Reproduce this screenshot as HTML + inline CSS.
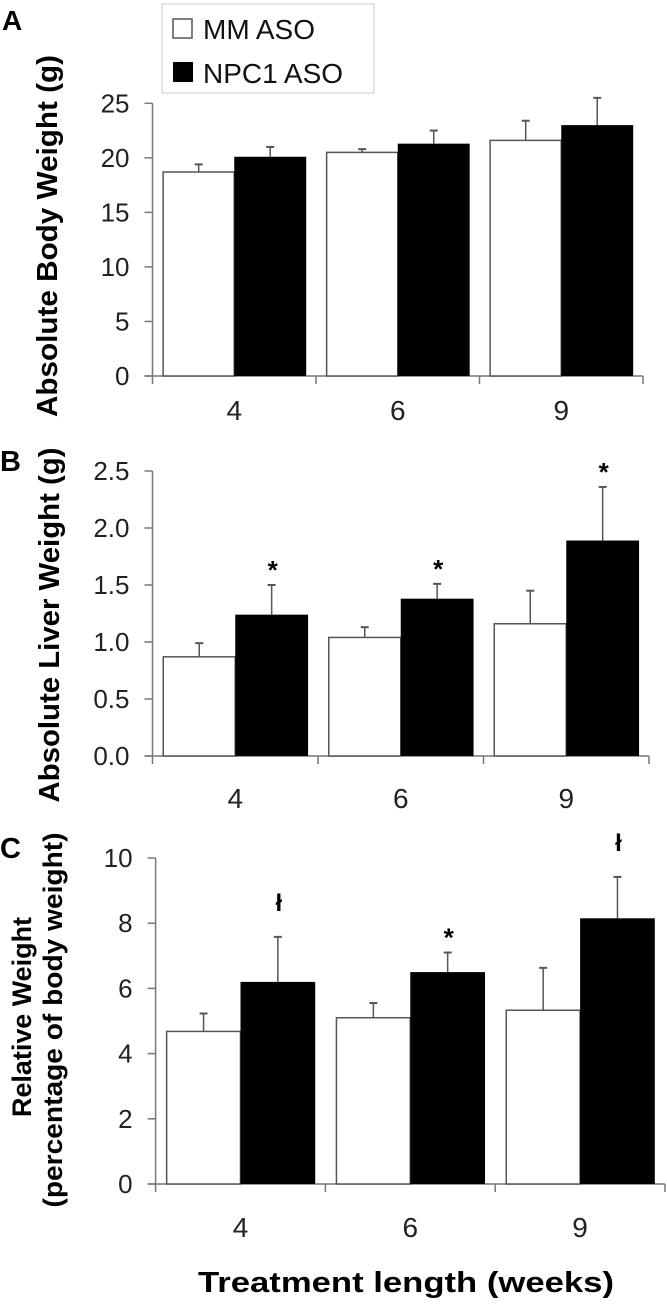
<!DOCTYPE html>
<html><head><meta charset="utf-8"><style>
html,body{margin:0;padding:0;background:#fff;}
svg{display:block;font-family:"Liberation Sans",Arial,sans-serif;}
</style></head><body>
<svg id="fig" width="667" height="1305" viewBox="0 0 667 1305">
<g>
<rect x="162" y="4" width="212" height="89" fill="#fff" stroke="#ccc" stroke-width="1"/>
<rect x="173" y="19" width="19" height="19" fill="#fff" stroke="#555" stroke-width="1.5"/>
<text x="203" y="39" font-size="28" fill="#111">MM ASO</text>
<rect x="173" y="62" width="20" height="20" fill="#000"/>
<text x="203" y="83" font-size="28" fill="#111">NPC1 ASO</text>
</g>
<text x="2" y="30" font-size="28" font-weight="bold">A</text>
<text x="0" y="471" font-size="29" font-weight="bold">B</text>
<text x="0" y="858" font-size="29" font-weight="bold">C</text>
<text x="406" y="1292" font-size="29" font-weight="bold" text-anchor="middle" textLength="416" lengthAdjust="spacingAndGlyphs">Treatment length (weeks)</text>
</svg>
<script>
const categories = ["4", "6", "9"];
const bodyMM = [18.7, 20.5, 21.6];
const bodyMMErr = [0.7, 0.3, 1.8];
const bodyNPC = [20.1, 21.3, 23.0];
const bodyNPCErr = [0.9, 1.2, 2.5];
const bodyTicks = [0, 5, 10, 15, 20, 25];
const bodyTickLabels = ["0", "5", "10", "15", "20", "25"];
const bodyMarks = ["", "", ""];

const liverMM = [0.87, 1.04, 1.16];
const liverMMErr = [0.12, 0.09, 0.29];
const liverNPC = [1.24, 1.38, 1.89];
const liverNPCErr = [0.26, 0.13, 0.47];
const liverTicks = [0, 0.5, 1.0, 1.5, 2.0, 2.5];
const liverTickLabels = ["0.0", "0.5", "1.0", "1.5", "2.0", "2.5"];
const liverMarks = ["*", "*", "*"];

const relMM = [4.68, 5.1, 5.33];
const relMMErr = [0.55, 0.45, 1.3];
const relNPC = [6.2, 6.5, 8.15];
const relNPCErr = [1.38, 0.6, 1.27];
const relTicks = [0, 2, 4, 6, 8, 10];
const relTickLabels = ["0", "2", "4", "6", "8", "10"];
const relMarks = ["ł", "*", "ł"];

const NS = "http://www.w3.org/2000/svg";
const svg = document.getElementById("fig");
function mk(tag, attrs, parent) {
  const e = document.createElementNS(NS, tag);
  for (const k in attrs) e.setAttribute(k, attrs[k]);
  (parent || svg).appendChild(e);
  return e;
}
function panel(p) {
  const g = mk("g", {});
  
  
  const ymax = p.ticks[p.ticks.length - 1];
  const y = v => p.y0 - (v / ymax) * (p.y0 - p.ytop);
  const gw = (p.x1 - p.x0) / categories.length;
  const gx = i => p.x0 + i * gw;
  const axc = "#777";
  const ya = mk("line", {x1: p.x0, y1: p.ytop, x2: p.x0, y2: p.y0, stroke: axc, "stroke-width": 1.5}, g);
  
  
  const xa = mk("line", {x1: p.x0 - 8, y1: p.y0, x2: p.x1, y2: p.y0, stroke: axc, "stroke-width": 1.5}, g);
  
  
  p.ticks.forEach((t, i) => {
    mk("line", {x1: p.x0 - 8, y1: y(t), x2: p.x0, y2: y(t), stroke: axc, "stroke-width": 1.5}, g);
    const tl = mk("text", {x: p.x0 - 23, y: y(t) + 9, "font-size": 26, "text-anchor": "end", fill: "#222"}, g);
    tl.textContent = p.tickLabels[i];
    
    
  });
  for (let i = 0; i <= categories.length; i++) {
    mk("line", {x1: gx(i), y1: p.y0, x2: gx(i), y2: p.y0 + 8, stroke: axc, "stroke-width": 1.5}, g);
  }
  categories.forEach((c, i) => {
    const wl = gx(i) + 0.065 * gw, wr = gx(i) + 0.5 * gw, br = gx(i) + 0.94 * gw;
    const eW = y(p.mm[i] + p.mmErr[i]);
    const cxw = (wl + wr) / 2;
    mk("line", {x1: cxw, y1: y(p.mm[i]), x2: cxw, y2: eW, stroke: "#555", "stroke-width": 1.5}, g);
    mk("line", {x1: cxw - 4, y1: eW, x2: cxw + 4, y2: eW, stroke: "#555", "stroke-width": 2}, g);
    const w = mk("rect", {x: wl, y: y(p.mm[i]), width: wr - wl, height: p.y0 - y(p.mm[i]), fill: "#fff", stroke: "#555", "stroke-width": 1.5}, g);
    
    
    const b = mk("rect", {x: wr, y: y(p.npc[i]), width: br - wr, height: p.y0 - y(p.npc[i]), fill: "#000"}, g);
    
    
    const cxb = (wr + br) / 2;
    const eB = y(p.npc[i] + p.npcErr[i]);
    mk("line", {x1: cxb, y1: y(p.npc[i]), x2: cxb, y2: eB, stroke: "#555", "stroke-width": 1.5}, g);
    mk("line", {x1: cxb - 4, y1: eB, x2: cxb + 4, y2: eB, stroke: "#555", "stroke-width": 2}, g);
    if (p.marks[i]) {
      const m = mk("text", {x: cxb + 1, y: eB - (p.marks[i] === "*" ? 6 : 26), "font-size": p.marks[i] === "*" ? 26 : 24, "font-weight": "bold", "text-anchor": "middle"}, g);
      m.textContent = p.marks[i];
      
      
    }
    const cl = mk("text", {x: gx(i) + gw / 2, y: p.labelY + 10, "font-size": 28, "text-anchor": "middle", fill: "#222"}, g);
    cl.textContent = c;
    
    
  });
  p.titles.forEach(t => {
    const tt = mk("text", {x: 0, y: 0, "font-size": t.fs, "font-weight": "bold", "text-anchor": "middle", "dominant-baseline": "central", textLength: t.len, lengthAdjust: "spacingAndGlyphs", transform: "translate(" + t.cx + "," + t.cy + ") rotate(-90)"}, g);
    tt.textContent = t.text;
    
    
  });
}
panel({name: "panel-a-body-weight", x0: 152.5, x1: 643, y0: 376, ytop: 103.3, ticks: bodyTicks, tickLabels: bodyTickLabels,
  mm: bodyMM, mmErr: bodyMMErr, npc: bodyNPC, npcErr: bodyNPCErr, marks: bodyMarks, labelY: 410,
  titles: [{text: "Absolute Body Weight (g)", cx: 48, cy: 236, len: 362, fs: 29}]});
panel({name: "panel-b-liver-weight", x0: 152.5, x1: 649, y0: 756, ytop: 471, ticks: liverTicks, tickLabels: liverTickLabels,
  mm: liverMM, mmErr: liverMMErr, npc: liverNPC, npcErr: liverNPCErr, marks: liverMarks, labelY: 798,
  titles: [{text: "Absolute Liver Weight (g)", cx: 50, cy: 625, len: 355, fs: 29}]});
panel({name: "panel-c-relative-weight", x0: 155.6, x1: 665, y0: 1184, ytop: 858, ticks: relTicks, tickLabels: relTickLabels,
  mm: relMM, mmErr: relMMErr, npc: relNPC, npcErr: relNPCErr, marks: relMarks, labelY: 1227,
  titles: [{text: "Relative Weight", cx: 22, cy: 1017, len: 200, fs: 27},
           {text: "(percentage of body weight)", cx: 53, cy: 1020, len: 375, fs: 27}]});
</script>
</body></html>
